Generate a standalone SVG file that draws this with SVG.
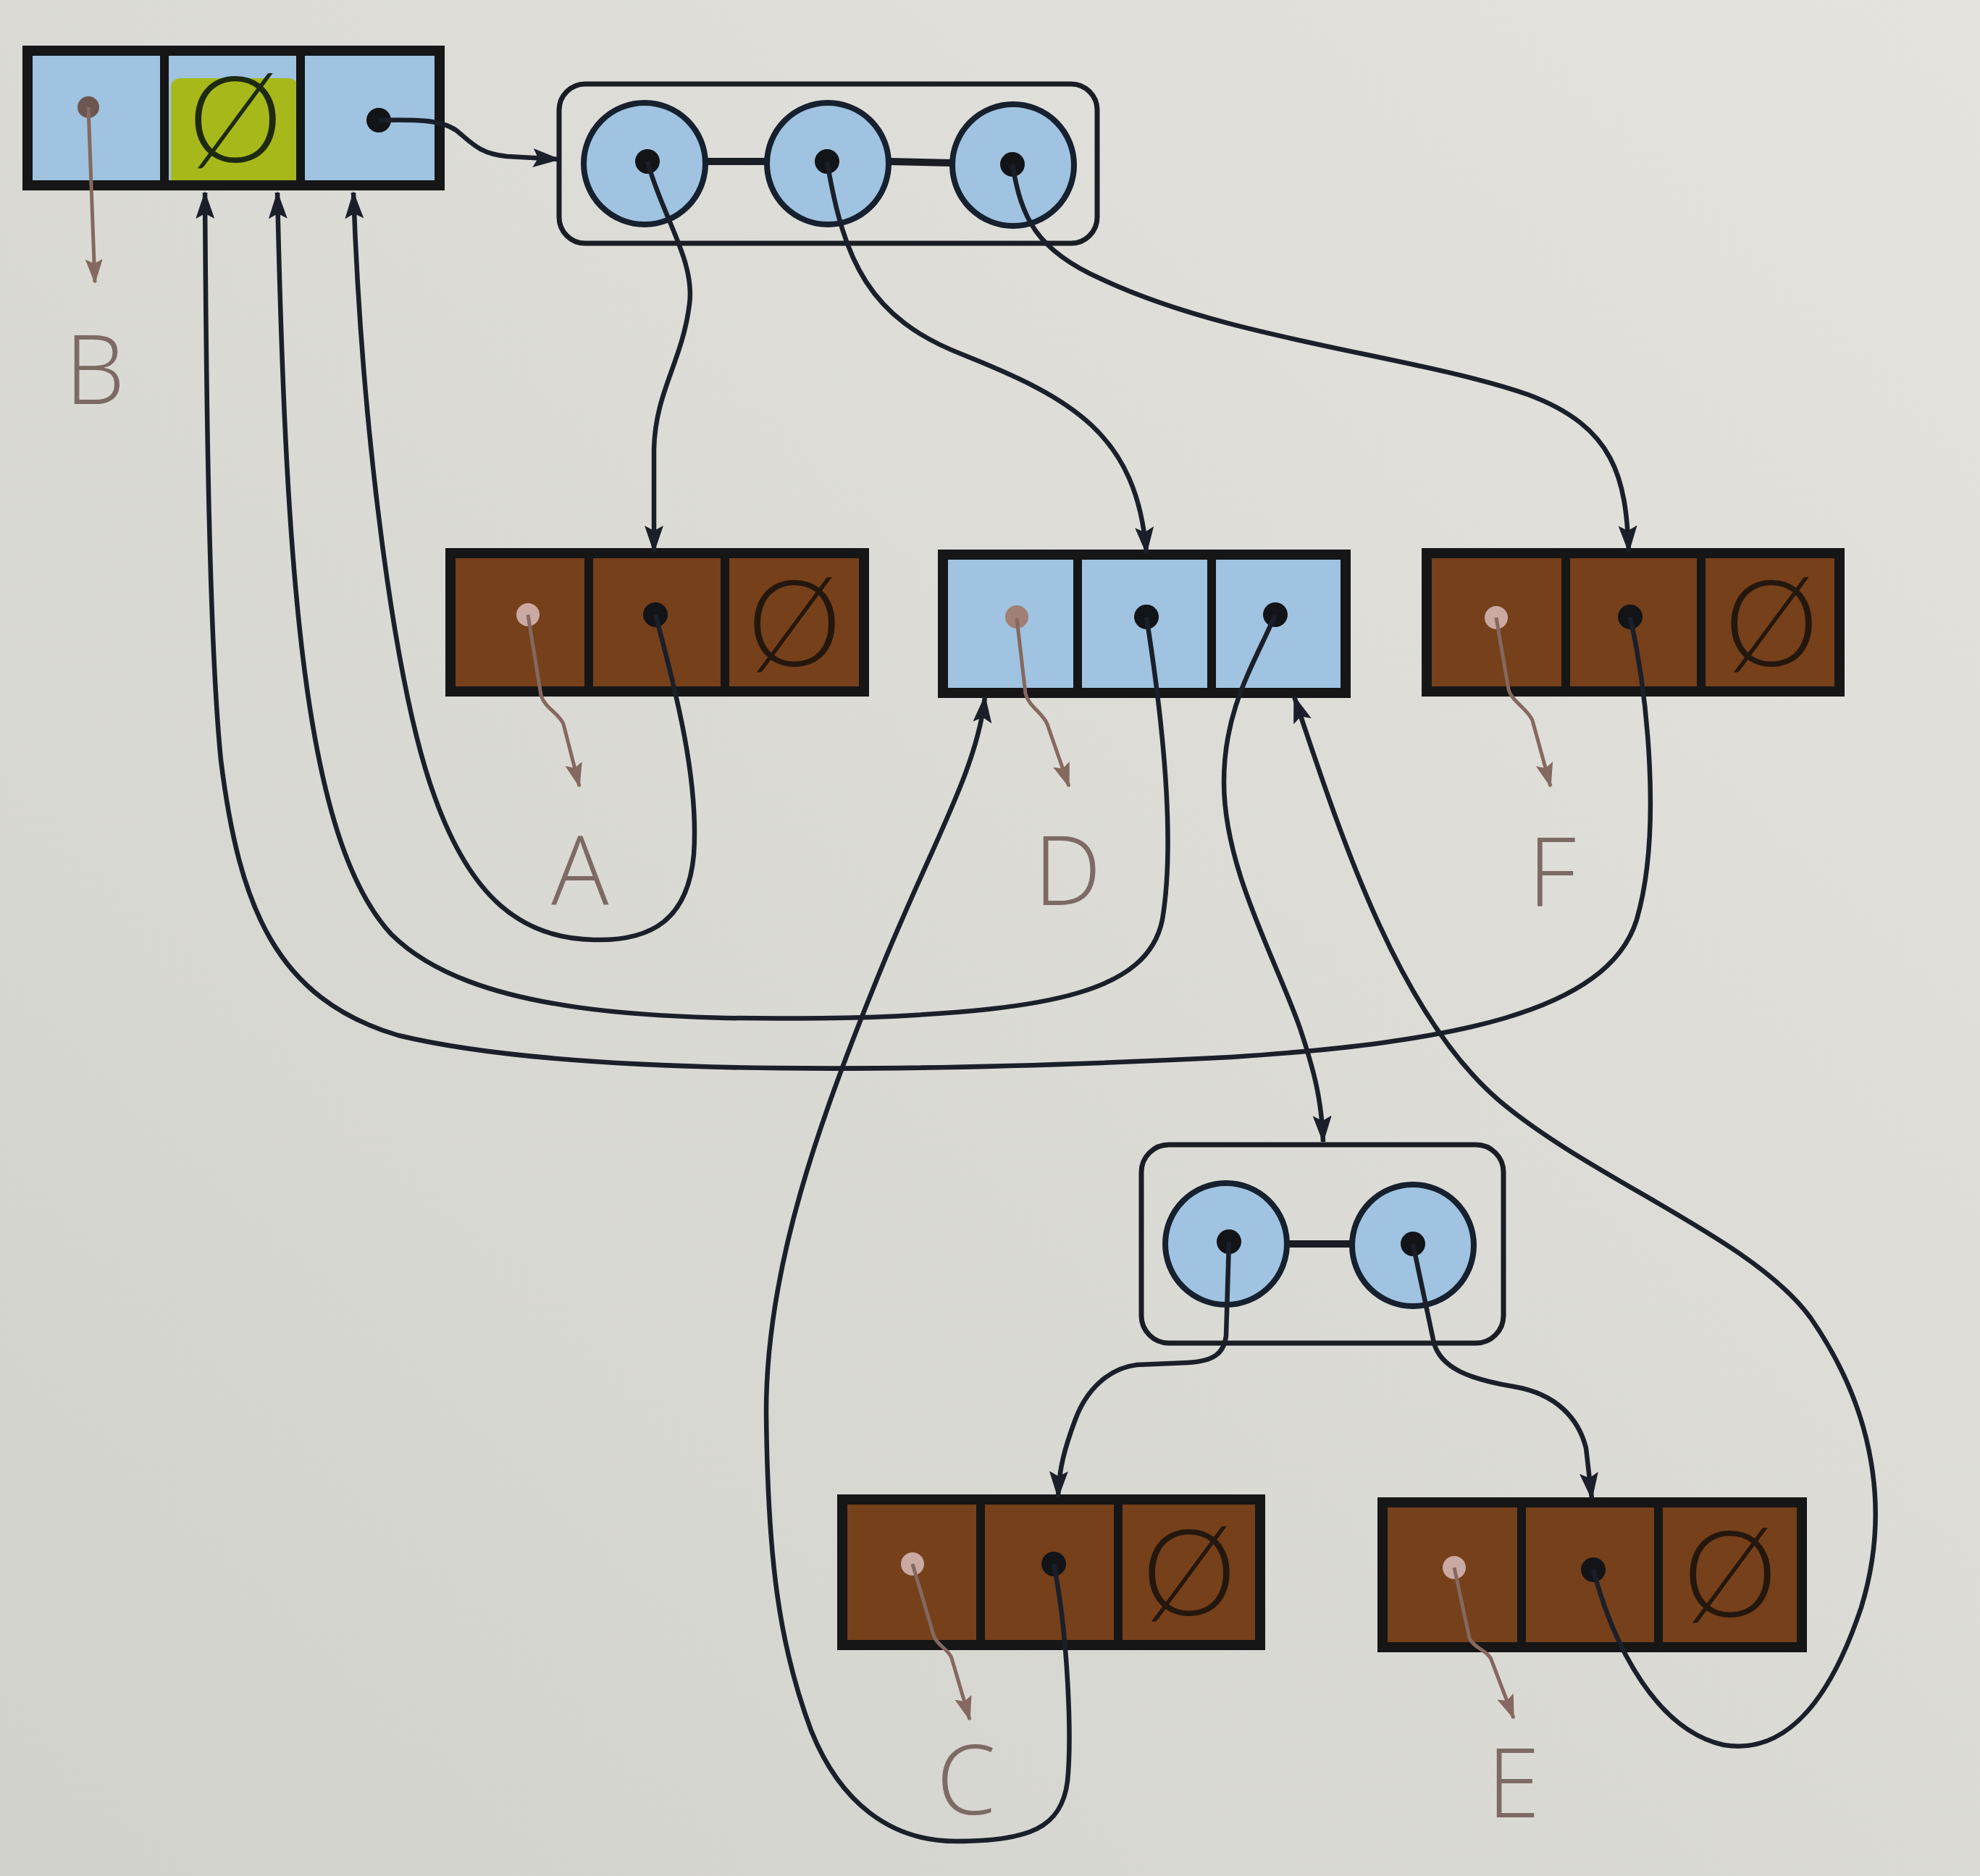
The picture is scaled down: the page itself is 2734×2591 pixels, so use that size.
<svg xmlns="http://www.w3.org/2000/svg" width="2734" height="2591" viewBox="0 0 2734 2591">
<defs>
<linearGradient id="bg" x1="1" y1="0" x2="0" y2="1">
<stop offset="0" stop-color="#e4e3de"/>
<stop offset="1" stop-color="#d2d2cd"/>
</linearGradient>
<marker id="ad" markerUnits="userSpaceOnUse" markerWidth="38" markerHeight="26" refX="36" refY="13" orient="auto"><path d="M0,0 L38,13 L0,26 L7,13 z" fill="#1b1f2a"/></marker>
<marker id="ab" markerUnits="userSpaceOnUse" markerWidth="34" markerHeight="24" refX="32" refY="12" orient="auto"><path d="M0,0 L34,12 L0,24 L6,12 z" fill="#85685f"/></marker>
<style>
.cellb{fill:#9fc3e0}
.cellr{fill:#76401a}
.frame{fill:none;stroke:#161616;stroke-width:14}
.div{stroke:#161616;stroke-width:12}
.grp{fill:none;stroke:#1b1d24;stroke-width:7}
.circ{fill:#9fc3e0;stroke:#16202e;stroke-width:8}
.link{stroke:#1b1d24;stroke-width:10}
.dd{fill:#121418}
.dl{fill:#c9a9a2}
.dm{fill:#a08075}
.db{fill:#6d5550}
.nil{font-family:Lato,"Open Sans","Liberation Sans",sans-serif;font-weight:300;font-size:165px;fill:#24170e;text-anchor:middle}
.lbl{font-family:"Open Sans","Liberation Sans",sans-serif;font-weight:300;font-size:132px;fill:#7d6a65;text-anchor:middle}
.ptr{fill:none;stroke:#1b1f2a;stroke-width:6.5;marker-end:url(#ad)}
.bptr{fill:none;stroke:#85685f;stroke-width:5;marker-end:url(#ab)}
</style>
</defs>
<rect x="0" y="0" width="2734" height="2591" fill="url(#bg)"/>

<g id="root">
<rect x="38" y="70" width="569" height="186" class="cellb"/>
<path d="M236,250 L236,122 Q236,108 250,108 L397,108 Q411,108 411,122 L411,250 z" fill="#a7b91a"/>
<line x1="227" y1="70" x2="227" y2="256" class="div"/>
<line x1="415" y1="70" x2="415" y2="256" class="div"/>
<rect x="38" y="70" width="569" height="186" class="frame"/>
<text x="325" y="224" class="nil" style="fill:#1e2a10">Ø</text>
<circle cx="122" cy="148" r="15" class="db"/>
<circle cx="523" cy="166" r="17" class="dd"/>
</g>

<g id="group1">
<rect x="772" y="116" width="743" height="220" rx="36" class="grp"/>
<line x1="975" y1="223" x2="1058" y2="223" class="link"/>
<line x1="1227" y1="223" x2="1314" y2="225" class="link"/>
<circle cx="890" cy="226" r="84" class="circ"/>
<circle cx="1143" cy="226" r="84" class="circ"/>
<circle cx="1399" cy="228" r="84" class="circ"/>
<circle cx="894" cy="223" r="17" class="dd"/>
<circle cx="1142" cy="223" r="17" class="dd"/>
<circle cx="1398" cy="227" r="17" class="dd"/>
</g>

<g id="nodeA">
<rect x="622" y="764" width="571" height="191" class="cellr"/>
<line x1="813" y1="764" x2="813" y2="955" class="div"/>
<line x1="1001" y1="764" x2="1001" y2="955" class="div"/>
<rect x="622" y="764" width="571" height="191" class="frame"/>
<text x="1097" y="920" class="nil">Ø</text>
<circle cx="729" cy="849" r="16" class="dl"/>
<circle cx="905" cy="849" r="17" class="dd"/>
</g>

<g id="nodeD">
<rect x="1302" y="766" width="556" height="191" class="cellb"/>
<line x1="1488" y1="766" x2="1488" y2="957" class="div"/>
<line x1="1673" y1="766" x2="1673" y2="957" class="div"/>
<rect x="1302" y="766" width="556" height="191" class="frame"/>
<circle cx="1404" cy="852" r="16" class="dm"/>
<circle cx="1583" cy="852" r="17" class="dd"/>
<circle cx="1761" cy="849" r="17" class="dd"/>
</g>

<g id="nodeF">
<rect x="1970" y="764" width="570" height="191" class="cellr"/>
<line x1="2162" y1="764" x2="2162" y2="955" class="div"/>
<line x1="2349" y1="764" x2="2349" y2="955" class="div"/>
<rect x="1970" y="764" width="570" height="191" class="frame"/>
<text x="2446" y="920" class="nil">Ø</text>
<circle cx="2066" cy="853" r="16" class="dl"/>
<circle cx="2251" cy="852" r="17" class="dd"/>
</g>

<g id="group2">
<rect x="1576" y="1581" width="500" height="274" rx="38" class="grp"/>
<line x1="1777" y1="1718" x2="1866" y2="1718" class="link"/>
<circle cx="1693" cy="1718" r="84" class="circ"/>
<circle cx="1951" cy="1720" r="84" class="circ"/>
<circle cx="1697" cy="1715" r="17" class="dd"/>
<circle cx="1951" cy="1718" r="17" class="dd"/>
</g>

<g id="nodeC">
<rect x="1163" y="2071" width="577" height="201" class="cellr"/>
<line x1="1354" y1="2071" x2="1354" y2="2272" class="div"/>
<line x1="1544" y1="2071" x2="1544" y2="2272" class="div"/>
<rect x="1163" y="2071" width="577" height="201" class="frame"/>
<text x="1642" y="2231" class="nil">Ø</text>
<circle cx="1260" cy="2160" r="16" class="dl"/>
<circle cx="1455" cy="2160" r="17" class="dd"/>
</g>

<g id="nodeE">
<rect x="1909" y="2075" width="579" height="200" class="cellr"/>
<line x1="2101" y1="2075" x2="2101" y2="2275" class="div"/>
<line x1="2290" y1="2075" x2="2290" y2="2275" class="div"/>
<rect x="1909" y="2075" width="579" height="200" class="frame"/>
<text x="2389" y="2233" class="nil">Ø</text>
<circle cx="2008" cy="2165" r="16" class="dl"/>
<circle cx="2200" cy="2168" r="17" class="dd"/>
</g>

<g id="labels">
<text x="131" y="558" class="lbl">B</text>
<text x="801" y="1250" class="lbl">A</text>
<text x="1474" y="1250" class="lbl">D</text>
<text x="2143" y="1252" class="lbl">F</text>
<text x="1334" y="2506" class="lbl">C</text>
<text x="2090" y="2510" class="lbl">E</text>
</g>

<g id="connectors">
<path class="bptr" d="M122,148 L131,390"/>
<path class="bptr" d="M729,849 L747,960 C752,978 772,985 778,1000 L800,1086"/>
<path class="bptr" d="M1404,854 L1416,958 C1420,975 1440,985 1446,1000 L1476,1086"/>
<path class="bptr" d="M2066,853 L2083,952 C2087,968 2110,980 2116,995 L2141,1086"/>
<path class="bptr" d="M1260,2160 L1289,2258 C1293,2272 1310,2278 1314,2290 L1339,2375"/>
<path class="bptr" d="M2008,2165 L2029,2262 C2033,2275 2055,2280 2059,2292 L2090,2373"/>

<path class="ptr" d="M523,166 C575,165 608,165 630,180 C652,198 662,212 700,216 L772,220"/>
<path class="ptr" d="M894,223 C915,300 960,360 952,420 C942,500 905,540 903,620 L903,762"/>
<path class="ptr" d="M1142,223 C1165,360 1200,440 1330,490 C1480,550 1570,600 1583,764"/>
<path class="ptr" d="M1398,227 C1410,300 1430,345 1520,385 C1700,470 1950,490 2110,545 C2230,590 2245,660 2249,762"/>
<path class="ptr" d="M905,849 C935,960 965,1080 958,1180 C950,1270 900,1300 820,1298 C720,1296 650,1240 600,1100 C545,950 500,600 488,266"/>
<path class="ptr" d="M1583,852 C1600,960 1625,1150 1605,1270 C1585,1370 1450,1395 1200,1405 C900,1412 650,1400 540,1290 C420,1160 395,800 383,266"/>
<path class="ptr" d="M2251,852 C2275,960 2295,1150 2260,1270 C2220,1400 2000,1440 1700,1460 C1300,1480 800,1490 550,1430 C380,1380 330,1250 305,1050 C290,900 285,600 283,266"/>
<path class="ptr" d="M1761,849 C1730,920 1690,980 1690,1080 C1690,1200 1760,1320 1795,1420 C1815,1480 1825,1520 1827,1577"/>
<path class="ptr" d="M1697,1715 L1693,1845 C1690,1870 1675,1880 1640,1882 L1570,1885 C1530,1890 1500,1920 1485,1960 C1470,2000 1462,2030 1461,2068"/>
<path class="ptr" d="M1951,1718 L1980,1855 C1990,1890 2030,1905 2090,1915 C2150,1925 2180,1960 2190,2000 L2198,2070"/>
<path class="ptr" d="M1455,2160 C1475,2260 1480,2400 1474,2460 C1466,2525 1420,2543 1320,2543 C1230,2543 1160,2490 1120,2390 C1075,2270 1060,2150 1058,1950 C1058,1750 1130,1550 1220,1330 C1290,1160 1350,1060 1360,962"/>
<path class="ptr" d="M2200,2168 C2230,2280 2290,2390 2380,2410 C2470,2425 2530,2340 2570,2220 C2610,2090 2590,1950 2500,1820 C2420,1710 2200,1630 2070,1520 C1930,1400 1850,1150 1787,962"/>
</g>
</svg>
